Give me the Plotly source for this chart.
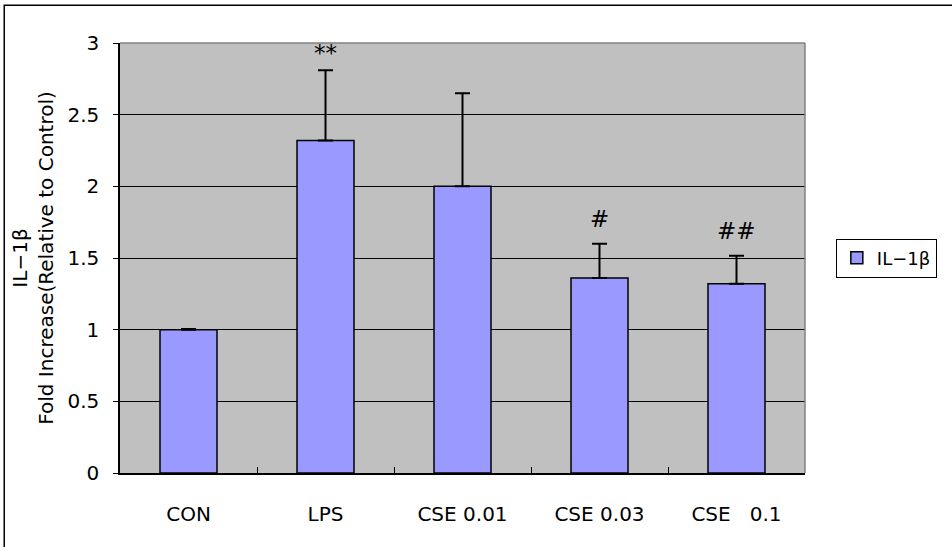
import plotly.graph_objects as go

categories = ["CON", "LPS", "CSE 0.01", "CSE 0.03", "CSE\u00a0\u00a0\u00a00.1"]
values = [1.0, 2.32, 2.0, 1.36, 1.32]
errors_up = [0.005, 0.49, 0.65, 0.24, 0.195]
marks = ["", "**", "", "#", "##"]
mark_y = [0, 2.93, 0, 1.77, 1.69]
y_ticks = [0, 0.5, 1, 1.5, 2, 2.5, 3]
y_tick_text = ["0", "0.5", "1", "1.5", "2", "2.5", "3"]

FONT = "DejaVu Sans"
FS = 20

fig = go.Figure()
fig.add_trace(go.Bar(
    x=categories, y=values, name="IL\u22121\u03b2",
    marker=dict(color="#9999ff", line=dict(color="black", width=1.5)),
    error_y=dict(type="data", symmetric=False, array=errors_up,
                 arrayminus=[0] * len(values), color="black",
                 thickness=2, width=7.5),
    showlegend=True,
))

for c, m, yy in zip(categories, marks, mark_y):
    if m:
        fig.add_annotation(x=c, y=yy, text=m, showarrow=False,
                           font=dict(family=FONT, size=23, color="black"))

# outer border (only top/left visible in reference)
fig.add_shape(type="rect", xref="paper", yref="paper",
              x0=-0.169, x1=1.4, y0=-0.4, y1=1.088,
              line=dict(color="black", width=1.5), fillcolor="rgba(0,0,0,0)",
              layer="below")

fig.update_layout(
    width=952, height=547,
    margin=dict(l=120, r=147, t=43, b=74),
    paper_bgcolor="white", plot_bgcolor="#c0c0c0",
    bargap=0.584,
    font=dict(family=FONT, size=FS, color="black"),
    legend=dict(x=1.045, y=0.5, xanchor="left", yanchor="middle",
                bgcolor="white", bordercolor="black", borderwidth=1,
                font=dict(family=FONT, size=18), itemwidth=30),
    xaxis=dict(showline=True, linecolor="black", linewidth=1.5,
               ticks="inside", ticklen=6, tickcolor="black", tickson="boundaries",
               showgrid=False, tickfont=dict(size=FS), mirror=False,
               ticklabelstandoff=22),
    yaxis=dict(range=[0, 3], tickvals=y_ticks, ticktext=y_tick_text,
               showline=True, linecolor="black", linewidth=1.5,
               ticks="outside", ticklen=5, tickcolor="black",
               showgrid=True, gridcolor="black", gridwidth=1,
               tickfont=dict(size=FS), zeroline=False, ticklabelstandoff=10,
               title=dict(text="IL\u22121\u03b2<br>Fold Increase(Relative to Control)",
                          font=dict(size=FS), standoff=8)),
)

# gray right/top border of plot area
fig.add_shape(type="line", xref="paper", yref="paper", x0=1, x1=1, y0=0, y1=1,
              line=dict(color="#808080", width=1.5))
fig.add_shape(type="line", xref="paper", yref="paper", x0=0, x1=1, y0=1, y1=1,
              line=dict(color="#808080", width=1.5))

fig.write_html("out.html", config={"displayModeBar": False},
               post_script="document.body.style.margin='0';")
